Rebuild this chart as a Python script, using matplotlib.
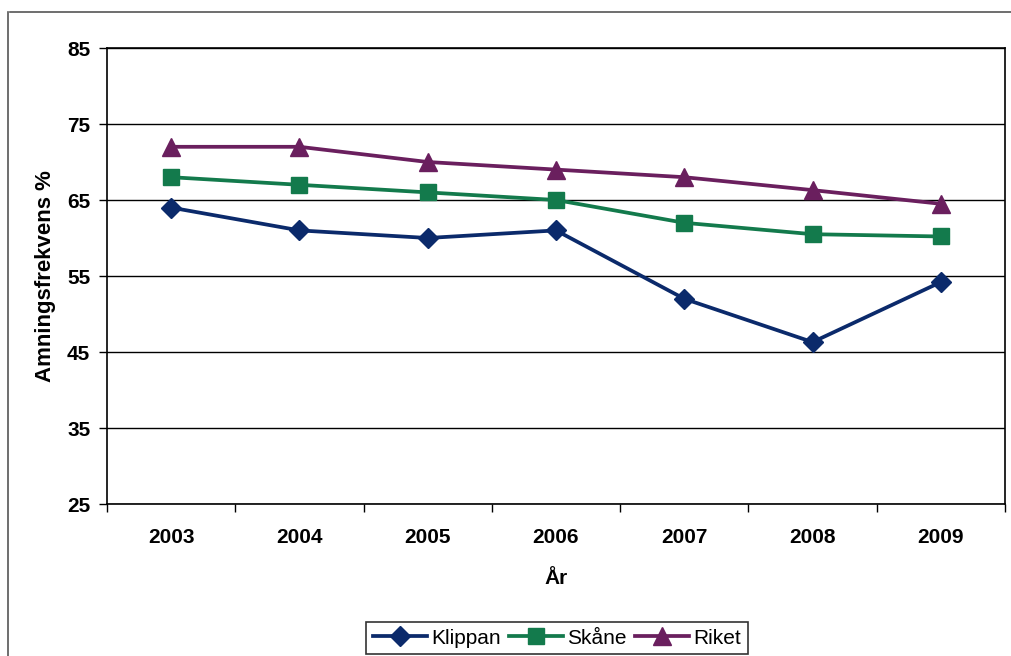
import matplotlib
matplotlib.use("Agg")
import matplotlib.pyplot as plt
from matplotlib.lines import Line2D

years = ["2003", "2004", "2005", "2006", "2007", "2008", "2009"]
klippan = [64, 61, 60, 61, 52, 46.3, 54.2]
skane = [68, 67, 66, 65, 62, 60.5, 60.2]
riket = [72, 72, 70, 69, 68, 66.3, 64.5]
yticks = [25, 35, 45, 55, 65, 75, 85]

plt.rcParams['font.family'] = ['Liberation Sans', 'DejaVu Sans']

W, H = 1012, 656
fig = plt.figure(figsize=(W / 100, H / 100), dpi=100)
ax = fig.add_axes([107 / W, 1 - 504 / H, (1005 - 107) / W, (504 - 48) / H])

x = list(range(len(years)))
ax.plot(x, klippan, color="#0b2a6b", lw=2.7, marker="D", ms=10, label="Klippan", zorder=3)
ax.plot(x, skane, color="#137a4c", lw=2.7, marker="s", ms=12, label="Skåne", zorder=3)
ax.plot(x, riket, color="#6a1f5e", lw=2.7, marker="^", ms=13, label="Riket", zorder=3)

ax.set_xlim(-0.5, len(years) - 0.5)
ax.set_ylim(25, 85)
ax.set_yticks(yticks)
ax.set_yticklabels([str(t) for t in yticks], fontsize=15, fontweight="bold")
ax.set_xticks(x)
ax.set_xticklabels(years, fontsize=15, fontweight="bold")
ax.tick_params(axis="x", length=0, pad=17)
ax.set_xticks([i - 0.5 for i in range(len(years) + 1)], minor=True)
ax.tick_params(axis="x", which="minor", length=6, width=1, color="black")
ax.tick_params(axis="y", length=6, width=1, pad=6)
ax.grid(axis="y", color="black", lw=1)
ax.set_axisbelow(True)
for s in ax.spines.values():
    s.set_color("black")
    s.set_linewidth(1.2)

ax.set_ylabel("Amningsfrekvens %", fontsize=16, fontweight="bold", labelpad=8)
ax.set_xlabel("År", fontsize=15, fontweight="bold", labelpad=16)

leg = ax.legend(loc="upper center", bbox_to_anchor=(557 / W, 1 - 612 / H),
                bbox_transform=fig.transFigure, ncol=3, frameon=True,
                fontsize=15, handlelength=2.6, handletextpad=0.2,
                columnspacing=0.4, borderpad=0.3, fancybox=False)
leg.get_frame().set_edgecolor("black")
leg.get_frame().set_linewidth(1.2)

fig.add_artist(Line2D([10 / W, 1], [1 - 12 / H, 1 - 12 / H], transform=fig.transFigure,
                      color="#555555", lw=1.2))
fig.add_artist(Line2D([8 / W, 8 / W], [1 - 12 / H, 0], transform=fig.transFigure,
                      color="#555555", lw=1.2))

fig.savefig("out.png", dpi=100)
